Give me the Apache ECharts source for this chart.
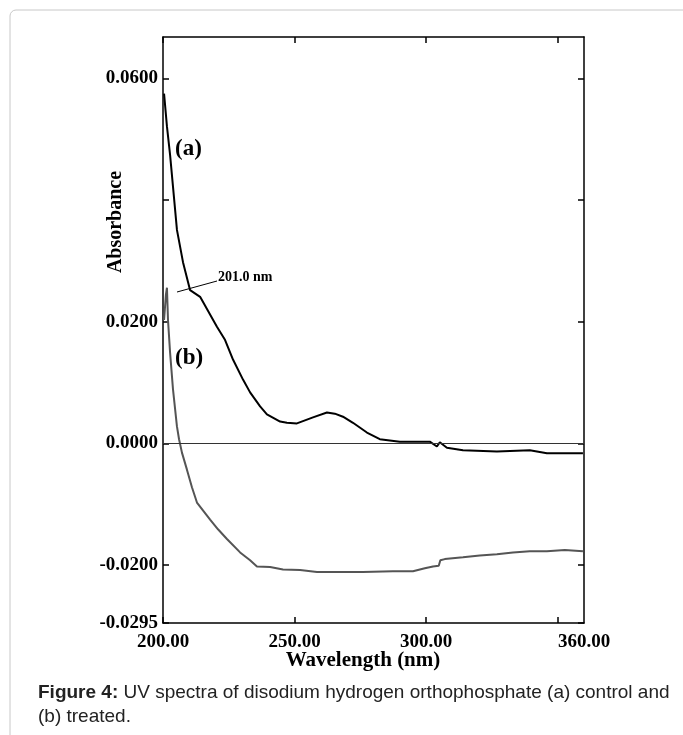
<!DOCTYPE html>
<html>
<head>
<meta charset="utf-8">
<script src="https://cdn.jsdelivr.net/npm/echarts@6/dist/echarts.min.js"></script>
<style>
html,body{margin:0;padding:0;background:#fff;}
#chart{width:683px;height:735px;}
</style>
</head>
<body>
<div id="chart"></div>
<script>
// Curve (a) control
const waveA = [200.4,201.5,202.7,205.3,207.6,210.3,214.1,220.5,223.6,226.6,230.4,233.1,236.9,239.5,244.5,247.1,250.9,257.0,262.3,265.3,268.4,272.2,277.5,282.4,290.0,301.4,304.1,305.2,307.9,314.0,326.9,339.4,345.9,359.6];
const absA  = [0.0575,0.0521,0.0474,0.0351,0.0298,0.0252,0.0241,0.0192,0.0170,0.0138,0.0105,0.0084,0.0061,0.0048,0.0036,0.0034,0.0033,0.0043,0.0051,0.0049,0.0044,0.0034,0.0018,0.0007,0.0003,0.0003,-0.0005,0.0002,-0.0007,-0.0011,-0.0013,-0.0011,-0.0016,-0.0016];
// Curve (b) treated
const waveB = [200.4,201.1,201.5,201.9,202.7,203.8,205.3,206.1,207.2,209.1,211.0,212.9,217.9,220.9,224.3,229.3,233.1,235.7,240.7,245.6,252.1,258.5,267.2,276.0,287.4,295.0,299.5,302.6,304.8,305.4,307.1,314.0,320.4,326.9,333.0,339.4,345.9,352.7,359.6];
const absB  = [0.0203,0.0244,0.0256,0.0203,0.0149,0.0089,0.0028,0.0007,-0.0015,-0.0043,-0.0072,-0.0097,-0.0125,-0.0141,-0.0157,-0.0179,-0.0192,-0.0202,-0.0203,-0.0207,-0.0208,-0.0211,-0.0211,-0.0211,-0.0210,-0.0210,-0.0205,-0.0202,-0.0201,-0.0192,-0.0190,-0.0187,-0.0184,-0.0182,-0.0179,-0.0177,-0.0177,-0.0175,-0.0177];
// Axis ticks and labels
const xTicks  = [200,250,300,350];
const xLabels = [200,250,300,360];
const yTicks  = [-0.0295,-0.02,0,0.02,0.04,0.06];
const yLabels = [-0.0295,-0.02,0,0.02,0.06];

const serif = '"Liberation Serif","Times New Roman",serif';
const sans = '"Liberation Sans",Arial,sans-serif';
const chart = echarts.init(document.getElementById('chart'));

const baseX = {
  type:'value', min:200, max:360,
  axisLine:{show:true,onZero:false,lineStyle:{color:'#000',width:1.5}},
  splitLine:{show:false}
};
const baseY = {
  type:'value', min:-0.0295, max:0.0668,
  axisLine:{show:true,onZero:false,lineStyle:{color:'#000',width:1.5}},
  splitLine:{show:false}
};

chart.setOption({
  animation:false,
  backgroundColor:'#fff',
  grid:{left:163,right:99,top:37,bottom:112},
  xAxis:[
    Object.assign({}, baseX, {
      position:'bottom',
      axisTick:{show:true,inside:true,length:6,customValues:xTicks,lineStyle:{color:'#000',width:1.5}},
      axisLabel:{show:true,customValues:xLabels,margin:10,color:'#000',fontFamily:serif,fontWeight:'bold',fontSize:19,
        formatter:v=>v.toFixed(2)}
    }),
    Object.assign({}, baseX, {
      position:'top',
      axisTick:{show:true,inside:true,length:6,customValues:xTicks,lineStyle:{color:'#000',width:1.5}},
      axisLabel:{show:false}
    })
  ],
  yAxis:[
    Object.assign({}, baseY, {
      position:'left',
      axisTick:{show:true,inside:true,length:6,customValues:yTicks,lineStyle:{color:'#000',width:1.5}},
      axisLabel:{show:true,customValues:yLabels,margin:5,color:'#000',fontFamily:serif,fontWeight:'bold',fontSize:19,
        formatter:v=>(v<0?'-':'')+Math.abs(v).toFixed(4)}
    }),
    Object.assign({}, baseY, {
      position:'right',
      axisTick:{show:true,inside:true,length:6,customValues:yTicks,lineStyle:{color:'#000',width:1.5}},
      axisLabel:{show:false}
    })
  ],
  series:[
    {
      type:'line', name:'(a) control', showSymbol:false, symbol:'none',
      data: waveA.map((w,i)=>[w,absA[i]]),
      lineStyle:{color:'#000',width:2},
      markLine:{
        silent:true, symbol:'none', label:{show:false},
        lineStyle:{color:'#333',width:1,type:'solid'},
        data:[{yAxis:0}]
      },
      z:3
    },
    {
      type:'line', name:'(b) treated', showSymbol:false, symbol:'none',
      data: waveB.map((w,i)=>[w,absB[i]]),
      lineStyle:{color:'#555',width:2},
      z:2
    }
  ],
  graphic:[
    {type:'rect', shape:{x:10,y:10,width:700,height:740,r:6}, style:{fill:'none',stroke:'#c8c8c8',lineWidth:1}, silent:true},
    {type:'text', x:116, y:222, rotation:Math.PI/2, style:{text:'Absorbance',font:'bold 20px '+serif,fill:'#000',textAlign:'center',textVerticalAlign:'middle'}},
    {type:'text', x:363, y:661, style:{text:'Wavelength (nm)',font:'bold 21px '+serif,fill:'#000',textAlign:'center',textVerticalAlign:'middle'}},
    {type:'text', x:175, y:149, style:{text:'(a)',font:'bold 23px '+serif,fill:'#000',textAlign:'left',textVerticalAlign:'middle'}},
    {type:'text', x:175, y:358, style:{text:'(b)',font:'bold 23px '+serif,fill:'#000',textAlign:'left',textVerticalAlign:'middle'}},
    {type:'line', shape:{x1:177,y1:292,x2:217,y2:281}, style:{stroke:'#000',lineWidth:1}},
    {type:'text', x:218, y:277, style:{text:'201.0 nm',font:'bold 14px '+serif,fill:'#000',textAlign:'left',textVerticalAlign:'middle'}},
    {type:'text', x:38, y:705, style:{
      text:'{b|Figure 4:} UV spectra of disodium hydrogen orthophosphate (a) control and\n(b) treated.',
      font:'19px '+sans, fill:'#222', textAlign:'left', textVerticalAlign:'middle', lineHeight:24,
      rich:{b:{fontWeight:'bold',fontFamily:sans,fontSize:19,fill:'#222'}}
    }}
  ]
});
</script>
</body>
</html>
